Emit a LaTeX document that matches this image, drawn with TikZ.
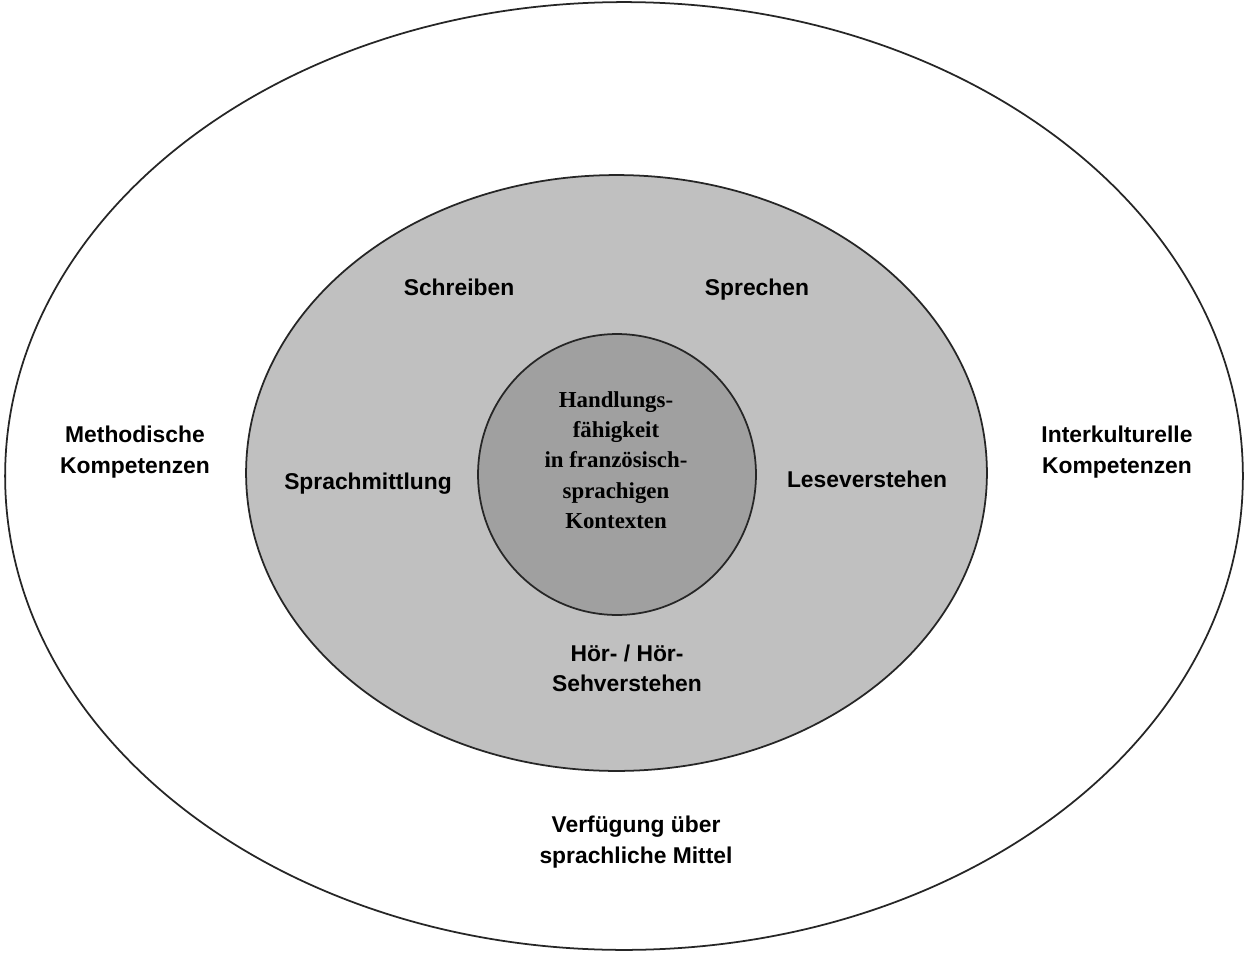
\documentclass[tikz,border=0pt]{standalone}
\usepackage{fontspec}
\setmainfont{Liberation Serif}
\setsansfont{Liberation Sans}
\usepackage{tikz}
\usetikzlibrary{shapes.geometric}

\definecolor{ringgray}{HTML}{C0C0C0}
\definecolor{coregray}{HTML}{A0A0A0}

\begin{document}
\begin{tikzpicture}[x=0.02cm,y=-0.02cm]
		\useasboundingbox (0,0) rectangle (1247,953);

		\begin{scope}[every node/.style={ellipse,draw=black!85,line width=1pt,inner sep=0pt}]
			\node[fill=white,minimum width=24.76cm,minimum height=18.96cm] (outer) at (624,476) {};
			\node[fill=ringgray,minimum width=14.82cm,minimum height=11.92cm] (skills) at (616.5,473) {};
			\node[fill=coregray,minimum width=5.56cm,minimum height=5.62cm] (core) at (617,474.5) {};
		\end{scope}

		\begin{scope}[every node/.style={align=center,inner sep=0pt,
					  font=\sffamily\bfseries\fontsize{13}{17.2}\selectfont}]
			\node (methods) at (135,452) {Methodische\\Kompetenzen};
			\node (intercult) at (1117,452) {Interkulturelle\\Kompetenzen};

			\node (write) at (459,287) {Schreiben};
			\node (speak) at (757,290) {Sprechen};

			\node (mediate) at (368,484) {Sprachmittlung};
			\node (read) at (867,479) {Leseverstehen};

			\node (listen) at (627,668) {Hör- / Hör-\\Sehverstehen};
			\node (means) at (636,842) {Verfügung über\\sprachliche Mittel};
		\end{scope}

		\node[align=center,inner sep=0pt,font=\rmfamily\bfseries\fontsize{13}{17.2}\selectfont]
			(goal) at (616,460) {Handlungs-\\fähigkeit\\in französisch-\\sprachigen\\Kontexten};
		\end{tikzpicture}
\end{document}
